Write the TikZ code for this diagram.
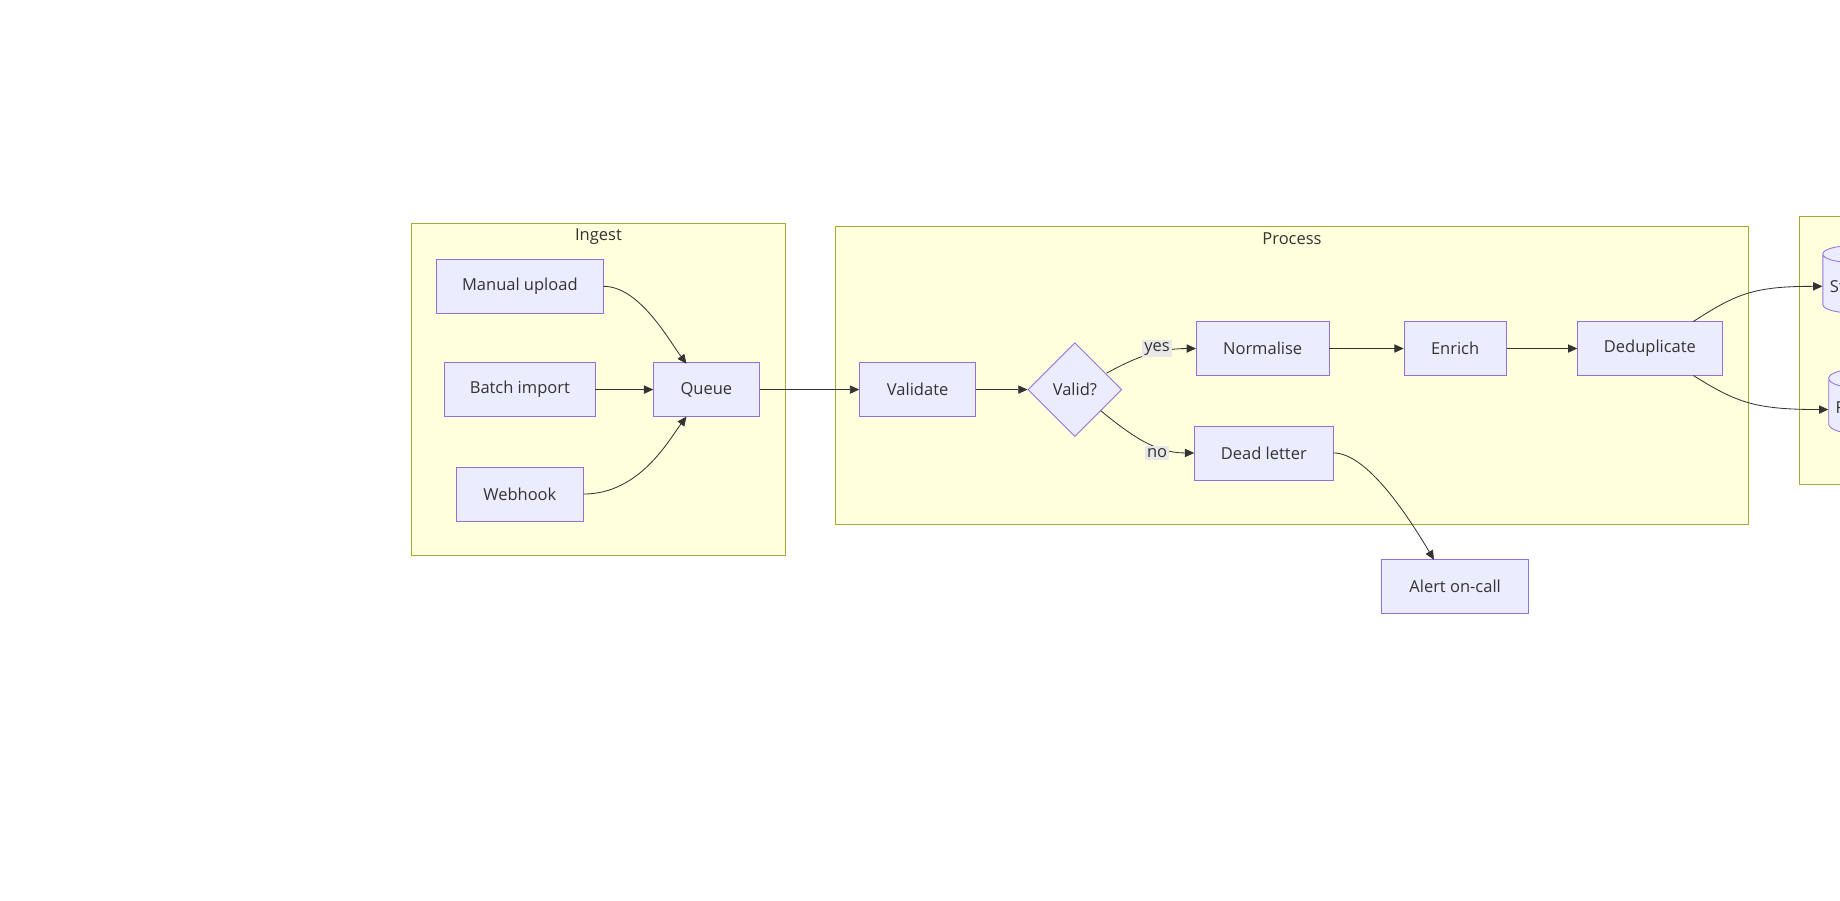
\documentclass[tikz,border=0pt]{standalone}
\usepackage{fontspec}
\setmainfont{Open Sans}
\usetikzlibrary{shapes.geometric,arrows.meta}
\definecolor{boxfill}{HTML}{ECECFF}
\definecolor{boxline}{HTML}{9370DB}
\definecolor{grpfill}{HTML}{FFFFDE}
\definecolor{grpline}{HTML}{AAAA33}
\definecolor{edgecol}{HTML}{333333}
\definecolor{lblfill}{HTML}{E8E8E8}
\tikzset{
  stage/.style={draw=boxline,fill=boxfill,minimum height=0.92cm,inner sep=0pt,text=edgecol},
  store/.style={stage,cylinder,shape border rotate=90,aspect=0.3,inner xsep=0.12cm,anchor=west},
  group/.style={draw=grpline,fill=grpfill},
  flow/.style={draw=edgecol,-{Triangle[length=4.5pt,width=4pt]}},
  tag/.style={fill=lblfill,inner sep=1pt,text=edgecol},
}
\begin{document}
\begin{tikzpicture}[x=0.02cm,y=-0.02cm,font=\fontsize{8}{10}\selectfont]
    \useasboundingbox (0,0) rectangle (1568,767);
    \clip (0,0) rectangle (1568,767);
    % groups
    \draw[group] (351,190) rectangle (669,473);
    \node[text=edgecol] (ingestT) at (510,202) {Ingest};
    \draw[group] (712,193) rectangle (1490,447);
    \node[text=edgecol] (processT) at (1101,203) {Process};
    \draw[group] (1533,184) rectangle (1640,413);

    % ingest
    \node[stage,minimum width=2.84cm] (manual) at (443,244) {Manual upload};
    \node[stage,minimum width=2.56cm] (batch) at (443,332) {Batch import};
    \node[stage,minimum width=2.16cm] (hook) at (443,421) {Webhook};
    \node[stage,minimum width=1.8cm] (queue) at (602,332) {Queue};

    % process
    \node[stage,minimum width=1.98cm] (validate) at (782,332) {Validate};
    \node[stage,diamond,minimum width=1.6cm,minimum height=1.6cm] (valid) at (916,332) {Valid?};
    \node[stage,minimum width=2.26cm] (normalise) at (1076,297) {Normalise};
    \node[stage,minimum width=1.74cm] (enrich) at (1240,297) {Enrich};
    \node[stage,minimum width=2.46cm] (dedup) at (1406,297) {Deduplicate};
    \node[stage,minimum width=2.36cm] (dead) at (1077,386) {Dead letter};
    \node[stage,minimum width=2.5cm] (alert) at (1240,500) {Alert on-call};

    % stores
    \node[store,minimum height=1.14cm] (storeA) at (1553,244) {Store};
    \node[store,minimum height=1.12cm] (reportB) at (1558,349) {Report};

    % edges
    \draw[flow] (manual.east) .. controls (545,244) and (570,290) .. (585,310);
    \draw[flow] (batch) -- (queue);
    \draw[flow] (hook.east) .. controls (545,421) and (570,375) .. (585,355);
    \draw[flow] (queue) -- (validate);
    \draw[flow] (validate) -- (valid);
    \draw[flow] (943,318) .. controls (965,306) and (985,297) .. (normalise.west);
    \draw[flow] (938,350) .. controls (965,372) and (985,386) .. (dead.west);
    \node[tag] (yesL) at (986,297) {yes};
    \node[tag] (noL) at (986,386) {no};
    \draw[flow] (normalise) -- (enrich);
    \draw[flow] (enrich) -- (dedup);
    \draw[flow] (dead.east) .. controls (1165,386) and (1200,440) .. (1222,477);
    \draw[flow] (1443,274) .. controls (1480,250) and (1495,244) .. (storeA.west);
    \draw[flow] (1443,320) .. controls (1480,343) and (1495,349) .. (reportB.west);
\end{tikzpicture}
\end{document}
